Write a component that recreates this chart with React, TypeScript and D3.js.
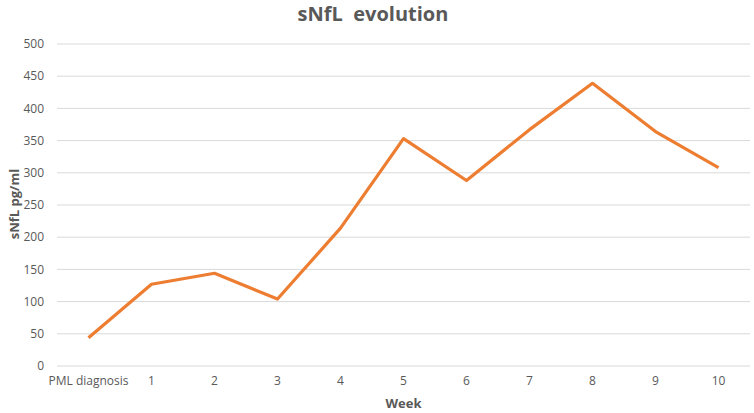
import React, { useEffect, useRef } from "react";
import * as d3 from "d3";

const categories = ["PML diagnosis", "1", "2", "3", "4", "5", "6", "7", "8", "9", "10"];
const values = [44, 127, 144, 104, 214, 353, 288, 367, 439, 364, 308];
const yTicks = [0, 50, 100, 150, 200, 250, 300, 350, 400, 450, 500];

const width = 754;
const height = 413;
const margin = { top: 44, right: 4, bottom: 47, left: 57 };
const font = "'Open Sans', 'DejaVu Sans', sans-serif";
const textColor = "#595959";

export default function App() {
  const svgRef = useRef<SVGSVGElement>(null);

  useEffect(() => {
    const svg = d3.select(svgRef.current);
    svg.selectAll("*").remove();

    const x = d3.scaleBand<string>()
      .domain(categories)
      .range([margin.left, width - margin.right]);

    const y = d3.scaleLinear()
      .domain([0, 500])
      .range([height - margin.bottom, margin.top]);

    // gridlines
    svg.append("g")
      .selectAll("line")
      .data(yTicks)
      .join("line")
      .attr("x1", margin.left)
      .attr("x2", width - margin.right)
      .attr("y1", d => y(d))
      .attr("y2", d => y(d))
      .attr("stroke", "#d9d9d9")
      .attr("stroke-width", 1);

    // y tick labels
    svg.append("g")
      .selectAll("text")
      .data(yTicks)
      .join("text")
      .attr("x", 44)
      .attr("y", d => y(d))
      .attr("dy", "0.35em")
      .attr("text-anchor", "end")
      .style("font", `12px ${font}`)
      .attr("fill", textColor)
      .text(d => d);

    // x tick labels
    svg.append("g")
      .selectAll("text")
      .data(categories)
      .join("text")
      .attr("x", d => x(d)! + x.bandwidth() / 2)
      .attr("y", height - margin.bottom + 19)
      .attr("text-anchor", "middle")
      .style("font", `12px ${font}`)
      .attr("fill", textColor)
      .text(d => d);

    const line = d3.line<number>()
      .x((d, i) => x(categories[i])! + x.bandwidth() / 2)
      .y(d => y(d));

    svg.append("path")
      .datum(values)
      .attr("d", line)
      .attr("fill", "none")
      .attr("stroke", "#ED7D31")
      .attr("stroke-width", 3.2)
      .attr("stroke-linejoin", "round");

    // title
    svg.append("text")
      .attr("x", 373)
      .attr("y", 21)
      .attr("text-anchor", "middle")
      .style("font", `bold 20px ${font}`)
      .attr("fill", textColor)
      .attr("xml:space", "preserve")
      .style("white-space", "pre")
      .text("sNfL  evolution");

    // axis titles
    svg.append("text")
      .attr("transform", `translate(19,204) rotate(-90)`)
      .attr("text-anchor", "middle")
      .style("font", `bold 13px ${font}`)
      .attr("fill", textColor)
      .text("sNfL pg/ml");

    svg.append("text")
      .attr("x", x("5")! + x.bandwidth() / 2)
      .attr("y", 408)
      .attr("text-anchor", "middle")
      .style("font", `bold 13px ${font}`)
      .attr("fill", textColor)
      .text("Week");
  }, []);

  return (
    <svg
      ref={svgRef}
      width={width}
      height={height}
      style={{ position: "absolute", left: 0, top: 0, background: "#fff" }}
    />
  );
}
